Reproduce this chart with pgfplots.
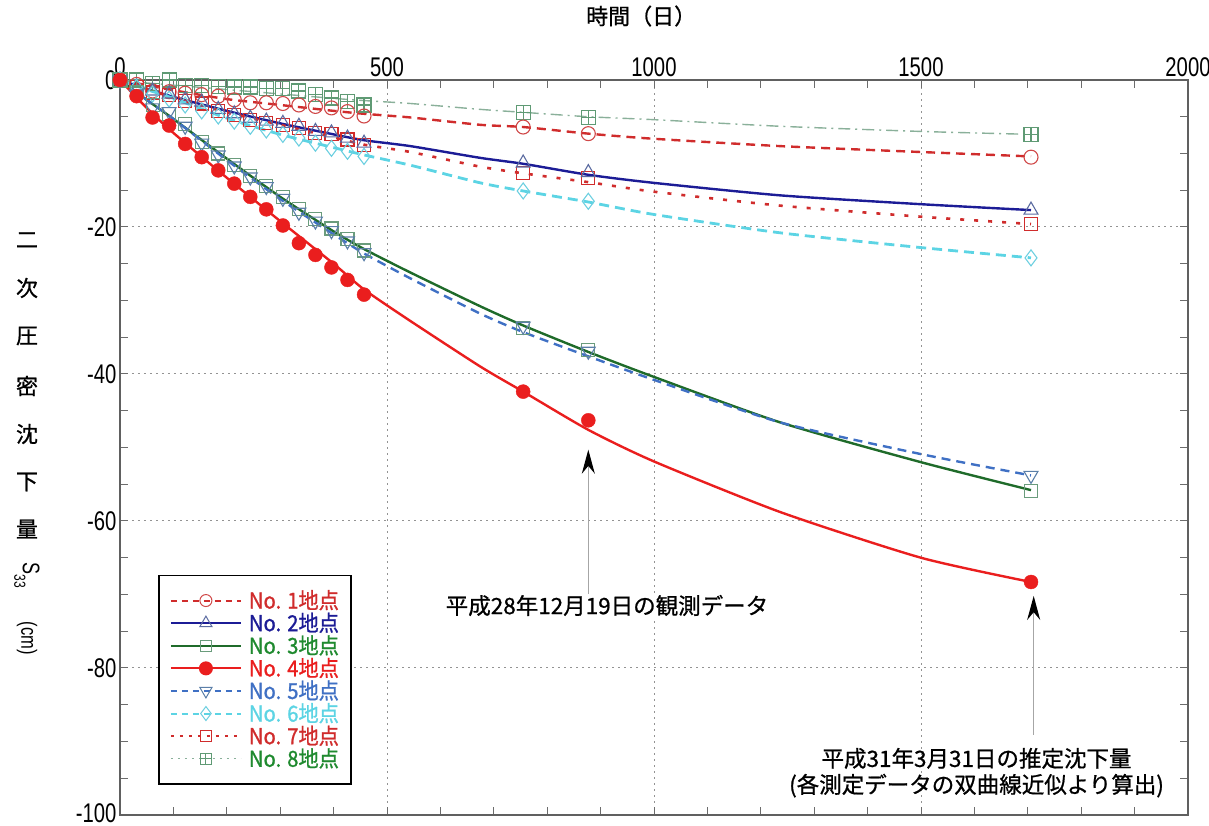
\documentclass[border=0pt]{standalone}
\usepackage{fontspec}
\usepackage{pgfplots}
\pgfplotsset{compat=1.18}
\usetikzlibrary{arrows.meta}
\setmainfont{Noto Sans CJK JP}
\newfontfamily\cjk[FakeBold=0.8]{Noto Sans CJK JP}
\newfontfamily\tickfont[FakeStretch=0.75]{Liberation Sans}
\newfontfamily\legfont[FakeStretch=0.92,FakeBold=1]{Noto Sans CJK JP}
\definecolor{cA}{HTML}{D02C2C}
\definecolor{cB}{HTML}{1C1C96}
\definecolor{cC}{HTML}{1F6B2A}
\definecolor{cCt}{HTML}{1F8A2F}
\definecolor{cD}{HTML}{EA1E1E}
\definecolor{cE}{HTML}{3F70C4}
\definecolor{cF}{HTML}{5CD4E4}
\definecolor{cH}{HTML}{8AB09A}
\definecolor{mA}{HTML}{D04848}
\definecolor{mB}{HTML}{5A6AA0}
\definecolor{mC}{HTML}{6A9C7C}
\definecolor{mE}{HTML}{5B7FA8}
\definecolor{mF}{HTML}{6CCFE0}
\definecolor{mH}{HTML}{5F9A74}
\pgfdeclareplotmark{sqplus}{%
  \pgfpathrectangle{\pgfpoint{-\pgfplotmarksize}{-\pgfplotmarksize}}{\pgfpoint{2\pgfplotmarksize}{2\pgfplotmarksize}}%
  \pgfpathmoveto{\pgfpoint{-\pgfplotmarksize}{0pt}}\pgfpathlineto{\pgfpoint{\pgfplotmarksize}{0pt}}%
  \pgfpathmoveto{\pgfpoint{0pt}{-\pgfplotmarksize}}\pgfpathlineto{\pgfpoint{0pt}{\pgfplotmarksize}}%
  \pgfusepathqstroke}

% measured points
\pgfplotstableread{
t    a     b     c     d     e     f     g     h
0    0     0     0     0     0     0     0     0
31  -0.6  -0.9  -1.6  -2.2  -1.9  -1.0  -1.0   0
61  -1.5  -1.5  -3.4  -5.1  -3.8  -1.9  -1.7  -0.45
92  -1.6  -1.9  -4.6  -6.2  -4.3  -2.6  -2.1   0
122 -1.8  -2.7  -6.0  -8.7  -6.3  -3.4  -2.9  -0.7
153 -2.0  -3.0  -8.4  -10.5 -8.6  -4.2  -3.2  -0.7
184 -2.2  -4.0  -10.0 -12.3 -10.2 -4.9  -4.2  -0.86
214 -2.7  -4.6  -11.6 -14.1 -11.7 -5.6  -4.8  -0.95
244 -3.1  -5.2  -13.1 -15.9 -13.2 -6.3  -5.4  -0.95
274 -3.1  -5.6  -14.4 -17.6 -14.5 -6.8  -5.8  -1.1
305 -3.2  -5.9  -15.9 -19.8 -16.1 -7.4  -6.1  -1.2
335 -3.4  -6.3  -17.6 -22.2 -18.0 -7.9  -6.5  -1.5
366 -3.6  -7.0  -18.9 -23.8 -19.2 -8.6  -7.2  -2.0
396 -3.8  -7.2  -20.2 -25.5 -20.5 -9.3  -7.4  -2.45
426 -4.3  -7.9  -21.6 -27.2 -21.9 -9.7  -8.1  -2.9
457 -4.9  -8.6  -23.2 -29.2 -23.5 -10.4 -8.9  -3.4
755 -6.4  -11.3 -33.7 -42.4 -33.5 -15.1 -12.7 -4.4
877 -7.3  -12.6 -36.7 -46.3 -36.9 -16.5 -13.3 -5.1
1706 -10.5 -17.7 -55.9 -68.3 -53.8 -24.2 -19.6 -7.4
}\pts

% fitted curves
\pgfplotstableread{
t    a     b     c     d     e     f     g     h
0    0     0     0     0     0     0     0     0
50  -0.7  -1.2  -2.7  -3.8  -2.7  -1.3  -1.2  -0.4
100 -1.4  -2.3  -5.3  -7.2  -5.3  -2.5  -2.4  -0.7
200 -2.6  -4.2  -10.7 -13.3 -10.9 -5.2  -4.4  -1.3
300 -3.4  -5.9  -15.9 -19.2 -16.2 -7.4  -6.1  -1.9
400 -4.2  -7.4  -20.6 -25.0 -21.0 -9.2  -7.8  -2.5
457 -4.6  -8.2  -23.0 -28.5 -23.6 -10.2 -8.8  -2.8
544 -5.1  -9.0  -26.2 -32.8 -27.0 -11.6 -9.8  -3.2
675 -6.1  -10.6 -30.8 -39.0 -31.8 -14.0 -11.8 -4.0
755 -6.4  -11.4 -33.4 -42.4 -34.3 -15.1 -12.7 -4.4
877 -7.3  -12.9 -37.0 -47.6 -37.6 -16.6 -13.9 -5.0
1000 -8.0 -14.0 -40.4 -51.9 -40.8 -18.3 -15.2 -5.4
1237 -9.0 -15.7 -46.6 -58.8 -46.6 -20.8 -17.1 -6.3
1500 -9.8 -16.9 -52.0 -65.0 -50.9 -22.8 -18.6 -7.0
1706 -10.4 -17.7 -55.8 -68.3 -53.8 -24.2 -19.6 -7.4
}\fit

\begin{document}
\begin{tikzpicture}
\begin{axis}[
  scale only axis, width=1068pt, height=735pt,
  xmin=0, xmax=2000, ymin=-100, ymax=0,
  clip=false,
  xticklabel pos=upper,
  xtick={0,500,1000,1500,2000}, xticklabels={0,500,1000,1500,2000},
  ytick={-100,-80,-60,-40,-20,0}, yticklabels={\raisebox{4pt}{-100},-80,-60,-40,-20,0},
  minor x tick num=4, minor y tick num=3,
  tick align=inside, major tick length=8pt, minor tick length=8pt,
  tick style={color=gray!85!black, line width=1pt},
  axis line style={gray!75!black, line width=1.3pt},
  grid=major,
  major grid style={gray!85, dash pattern=on 2pt off 4pt, line width=1pt},
  ticklabel style={font=\tickfont\fontsize{27}{27}\selectfont},
  legend style={at={(axis description cs:0.0356,0.327)}, anchor=north west,
    draw=black, line width=1.8pt, inner xsep=11pt, inner ysep=14pt,
    font=\legfont\fontsize{22}{22}\selectfont, row sep=0.6pt,
    nodes={inner sep=1pt, text height=18pt, text depth=2pt},
    /tikz/every odd column/.append style={column sep=6pt}},
  legend cell align=left,
  legend image code/.code={\draw[mark repeat=2,mark phase=2,#1] plot coordinates {(0pt,0pt) (35pt,0pt) (70pt,0pt)};},
]
% fitted lines
\addplot[forget plot, cA, line width=2.4pt, dash pattern=on 9pt off 6pt, smooth, tension=0.4] table[x=t,y=a]{\fit};
\addplot[forget plot, cB, line width=2.4pt, smooth, tension=0.4] table[x=t,y=b]{\fit};
\addplot[forget plot, cC, line width=2.4pt, smooth, tension=0.4] table[x=t,y=c]{\fit};
\addplot[forget plot, cD, line width=2.4pt, smooth, tension=0.4] table[x=t,y=d]{\fit};
\addplot[forget plot, cE, line width=2.4pt, dash pattern=on 9pt off 6pt, smooth, tension=0.4] table[x=t,y=e]{\fit};
\addplot[forget plot, cF, line width=2.8pt, dash pattern=on 10pt off 6pt, smooth, tension=0.4] table[x=t,y=f]{\fit};
\addplot[forget plot, cA, line width=2.6pt, dash pattern=on 4pt off 10pt, smooth, tension=0.4] table[x=t,y=g]{\fit};
\addplot[forget plot, cH, line width=1.4pt, dash pattern=on 12pt off 5pt on 2pt off 5pt, smooth, tension=0.4] table[x=t,y=h]{\fit};
% measured points
\addplot[forget plot, only marks, mark=sqplus, mark size=7pt, mark options={mH, line width=1.1pt}] table[x=t,y=h]{\pts};
\addplot[forget plot, only marks, mark=o, mark size=7pt, mark options={mA, line width=1.1pt}] table[x=t,y=a]{\pts};
\addplot[forget plot, only marks, mark=square, mark size=6.5pt, mark options={cA, line width=1.1pt}] table[x=t,y=g]{\pts};
\addplot[forget plot, only marks, mark=triangle, mark size=8pt, mark options={mB, line width=1.1pt}] table[x=t,y=b]{\pts};
\addplot[forget plot, only marks, mark=diamond, mark size=8pt, mark options={mF, line width=1.1pt}] table[x=t,y=f]{\pts};
\addplot[forget plot, only marks, mark=square, mark size=6.5pt, mark options={mC, line width=1.1pt}] table[x=t,y=c]{\pts};
\addplot[forget plot, only marks, mark=triangle, mark size=8pt, mark options={mE, line width=1.1pt, rotate=180}] table[x=t,y=e]{\pts};
\addplot[forget plot, only marks, mark=*, mark size=7pt, mark options={cD, fill=cD}] table[x=t,y=d]{\pts};
% legend
\addlegendimage{cA, line width=2pt, dash pattern=on 6pt off 5pt, mark=o, mark size=6pt, mark options={solid, mA, line width=1pt}}
\addlegendentry{\textcolor{cA}{No. 1地点}}
\addlegendimage{cB, line width=2pt, mark=triangle, mark size=7pt, mark options={mB, line width=1pt}}
\addlegendentry{\textcolor{cB}{No. 2地点}}
\addlegendimage{cC, line width=2pt, mark=square, mark size=5.5pt, mark options={mC, line width=1pt}}
\addlegendentry{\textcolor{cCt}{No. 3地点}}
\addlegendimage{cD, line width=2pt, mark=*, mark size=6pt, mark options={cD, fill=cD}}
\addlegendentry{\textcolor{cD}{No. 4地点}}
\addlegendimage{cE, line width=2pt, dash pattern=on 6pt off 5pt, mark=triangle, mark size=7pt, mark options={solid, mE, line width=1pt, rotate=180}}
\addlegendentry{\textcolor{cE}{No. 5地点}}
\addlegendimage{cF, line width=2pt, dash pattern=on 6pt off 5pt, mark=diamond, mark size=7pt, mark options={solid, mF, line width=1pt}}
\addlegendentry{\textcolor{cF}{No. 6地点}}
\addlegendimage{cA, line width=2pt, dash pattern=on 3pt off 6pt, mark=square, mark size=5.5pt, mark options={solid, cA, line width=1pt}}
\addlegendentry{\textcolor{cA}{No. 7地点}}
\addlegendimage{cH, line width=1.2pt, dash pattern=on 2pt off 5pt, mark=sqplus, mark size=5.5pt, mark options={solid, mH, line width=1pt}}
\addlegendentry{\textcolor{cCt}{No. 8地点}}
% titles
\node[font=\cjk\fontsize{22}{22}\selectfont] at (axis description cs:0.488,1.087) {時間（日）};
\node[font=\cjk\fontsize{22}{22}\selectfont, inner sep=0pt] at (axis description cs:-0.0871,0.7823) {二};
\node[font=\cjk\fontsize{22}{22}\selectfont, inner sep=0pt] at (axis description cs:-0.0871,0.7170) {次};
\node[font=\cjk\fontsize{22}{22}\selectfont, inner sep=0pt] at (axis description cs:-0.0871,0.6517) {圧};
\node[font=\cjk\fontsize{22}{22}\selectfont, inner sep=0pt] at (axis description cs:-0.0871,0.5837) {密};
\node[font=\cjk\fontsize{22}{22}\selectfont, inner sep=0pt] at (axis description cs:-0.0871,0.5184) {沈};
\node[font=\cjk\fontsize{22}{22}\selectfont, inner sep=0pt] at (axis description cs:-0.0871,0.4531) {下};
\node[font=\cjk\fontsize{22}{22}\selectfont, inner sep=0pt] at (axis description cs:-0.0871,0.3891) {量};
\node[font=\tickfont\fontsize{24}{24}\selectfont, inner sep=0pt, rotate=-90] at (axis description cs:-0.0871,0.3265) {S\raisebox{-0.35em}{\fontsize{16}{16}\selectfont 33}};
\node[font=\tickfont\fontsize{22}{22}\selectfont, inner sep=0pt, rotate=-90] at (axis description cs:-0.0871,0.2408) {(cm)};
% annotations
\draw[gray!70, line width=1.2pt, -{Stealth[black, length=24pt, width=13pt]}] (axis cs:877,-69.9) -- (axis cs:877,-50.3);
\draw[gray!70, line width=1.2pt, -{Stealth[black, length=24pt, width=13pt]}] (axis cs:1711,-89.1) -- (axis cs:1711,-70.2);
\node[font=\cjk\fontsize{22.5}{24}\selectfont, fill=white, inner sep=1pt] at (axis cs:912,-71.5) {平成28年12月19日の観測データ};
\node[font=\cjk\fontsize{22.5}{24}\selectfont, inner sep=0pt] at (axis cs:1604,-92.3) {平成31年3月31日の推定沈下量};
\node[font=\cjk\fontsize{22.5}{24}\selectfont, inner sep=0pt] at (axis cs:1604,-96.0) {(各測定データの双曲線近似より算出)};
\end{axis}
\pgfresetboundingbox
\useasboundingbox ([shift={(-120pt,-11pt)}]current axis.south west) rectangle ([shift={(21pt,80pt)}]current axis.north east);
\end{tikzpicture}
\end{document}
